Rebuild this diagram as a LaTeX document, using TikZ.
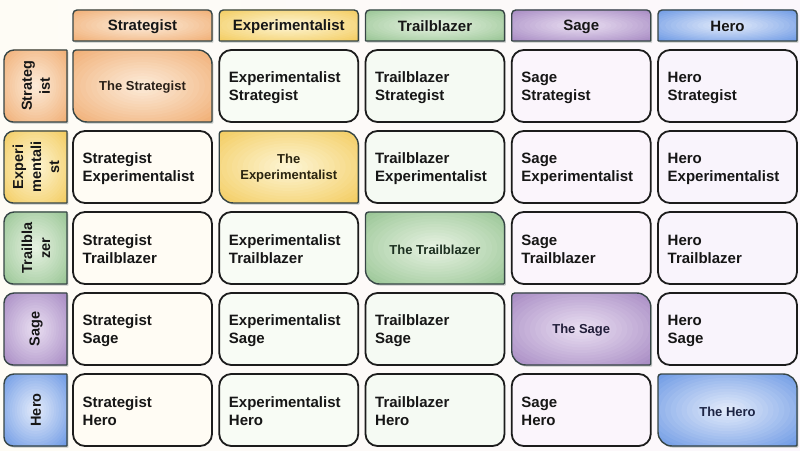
\documentclass[tikz,border=0pt]{standalone}
\usepackage{fontspec}
\setmainfont{Liberation Sans}
\definecolor{bgl}{HTML}{FEFCF5}
\definecolor{bgm}{HTML}{F7FBF5}
\definecolor{bgr}{HTML}{FBF7FC}
\definecolor{cellline}{HTML}{1C1C1C}
\definecolor{boxline}{HTML}{364545}
\definecolor{shadowc}{HTML}{C4C7C4}
\definecolor{txt}{HTML}{161616}
\definecolor{tA}{HTML}{FFFCF4}
\definecolor{tB}{HTML}{F8FCF5}
\definecolor{tC}{HTML}{F5FAF3}
\definecolor{tD}{HTML}{FBF5FC}
\definecolor{tE}{HTML}{F9F4FC}
\definecolor{oA}{HTML}{F0AD72}\definecolor{iA}{HTML}{FCEBD9}\definecolor{xA}{HTML}{2A2018}
\definecolor{oB}{HTML}{F3CB5C}\definecolor{iB}{HTML}{FDF5D4}\definecolor{xB}{HTML}{2A2410}
\definecolor{oC}{HTML}{96C492}\definecolor{iC}{HTML}{E7F2E2}\definecolor{xC}{HTML}{1C3020}
\definecolor{oD}{HTML}{A588C2}\definecolor{iD}{HTML}{E9DEF1}\definecolor{xD}{HTML}{221E3A}
\definecolor{oE}{HTML}{6A97E4}\definecolor{iE}{HTML}{E3EBFA}\definecolor{xE}{HTML}{1C2444}
\tikzset{
  celltext/.style={font=\fontsize{15}{18}\selectfont\bfseries, align=left, text=txt, inner sep=0pt, anchor=west},
  headtext/.style={font=\fontsize{15}{18}\selectfont\bfseries, align=center, text=txt, inner sep=0pt},
  rowtext/.style={font=\fontsize{14.5}{18}\selectfont\bfseries, align=center, text=txt, inner sep=0pt, rotate=90},
  diagtext/.style={font=\fontsize{13}{16}\selectfont\bfseries, align=center, inner sep=0pt},
  offbox/.style={draw=cellline, line width=1.8pt},
  colbox/.style={draw=boxline, line width=1.4pt},
  shadowbox/.style={fill=shadowc},
}
% path of a box: #1 x, #2 ytop (image coords), #3 w, #4 h, #5 rTL, #6 rTR, #7 rBR, #8 rBL
\newcommand\rpath[8]{({#1+#5},{450-(#2)}) -- ({#1+#3-#6},{450-(#2)})
    arc[start angle=90,end angle=0,radius=#6pt] -- ({#1+#3},{450-(#2)-#4+#7})
    arc[start angle=0,end angle=-90,radius=#7pt] -- ({#1+#8},{450-(#2)-#4})
    arc[start angle=270,end angle=180,radius=#8pt] -- ({#1},{450-(#2)-#5})
    arc[start angle=180,end angle=90,radius=#5pt] -- cycle}
% radial-looking gradient box: #1 colour key, #2 x, #3 ytop, #4 w, #5 h, #6-#9 radii
\newcommand\gradbox[9]{%
  \fill[shadowbox] \rpath{#2+1.4}{#3+1.6}{#4}{#5}{#6}{#7}{#8}{#9};
  \begin{scope}
    \clip \rpath{#2}{#3}{#4}{#5}{#6}{#7}{#8}{#9};
    \foreach \k in {0,...,18}{%
      \pgfmathsetmacro\p{100*(\k/18)^0.9}%
      \pgfmathsetmacro\f{0.72*(1-\k/18.6)}%
      \fill[i#1!\p!o#1] ({#2+(#4)/2},{450-(#3)-(#5)/2}) ellipse [x radius={\f*(#4)*1pt}, y radius={\f*(#5)*1pt}];
    }
  \end{scope}
  \draw[colbox] \rpath{#2}{#3}{#4}{#5}{#6}{#7}{#8}{#9};}
\newcommand\offcell[4]{%
  \pgfmathsetmacro\cx{73+146.25*(#1-1)}%
  \pgfmathsetmacro\cy{50+81*(#2-1)}%
  \path[fill=#4,offbox] \rpath{\cx}{\cy}{139}{72}{12}{12}{12}{12};
  \node[celltext] (cell-#1-#2) at ({\cx+9.5},{450-\cy-37.5}) {#3};}
\newcommand\diagcell[3]{%
  \pgfmathsetmacro\cx{73+146.25*(#1-1)}%
  \pgfmathsetmacro\cy{50+81*(#1-1)}%
  \gradbox{#2}{\cx}{\cy}{139}{72}{3}{14}{1}{14}%
  \node[diagtext,text=x#2] (cell-#1-#1) at ({\cx+69.5},{450-\cy-37.5}) {#3};}
\newcommand\colhead[3]{%
  \pgfmathsetmacro\cx{73+146.25*(#1-1)}%
  \gradbox{#2}{\cx}{10}{139}{31}{4}{4}{0.5}{0.5}%
  \node[headtext] (head-#1) at ({\cx+69.5},{450-26.5}) {#3};}
\newcommand\rowhead[3]{%
  \pgfmathsetmacro\cy{50+81*(#1-1)}%
  \gradbox{#2}{4}{\cy}{63}{72}{10}{0.5}{0.5}{9}%
  \node[rowtext] (row-#1) at (36,{450-\cy-36}) {#3};}
\begin{document}
\begin{tikzpicture}[x=1pt,y=1pt]
\useasboundingbox (0,0) rectangle (800,450);
\shade[left color=bgl, middle color=bgm, right color=bgr] (0,0) rectangle (800,450);
% column headers
\colhead{1}{A}{Strategist}
\colhead{2}{B}{Experimentalist}
\colhead{3}{C}{Trailblazer}
\colhead{4}{D}{Sage}
\colhead{5}{E}{Hero}
% row headers
\rowhead{1}{A}{Strateg\\ist}
\rowhead{2}{B}{Experi\\mentali\\st}
\rowhead{3}{C}{Trailbla\\zer}
\rowhead{4}{D}{Sage}
\rowhead{5}{E}{Hero}
% diagonal
\diagcell{1}{A}{The Strategist}
\diagcell{2}{B}{The\\Experimentalist}
\diagcell{3}{C}{The Trailblazer}
\diagcell{4}{D}{The Sage}
\diagcell{5}{E}{The Hero}
% row 1
\offcell{2}{1}{Experimentalist\\Strategist}{tB}
\offcell{3}{1}{Trailblazer\\Strategist}{tC}
\offcell{4}{1}{Sage\\Strategist}{tD}
\offcell{5}{1}{Hero\\Strategist}{tE}
% row 2
\offcell{1}{2}{Strategist\\Experimentalist}{tA}
\offcell{3}{2}{Trailblazer\\Experimentalist}{tC}
\offcell{4}{2}{Sage\\Experimentalist}{tD}
\offcell{5}{2}{Hero\\Experimentalist}{tE}
% row 3
\offcell{1}{3}{Strategist\\Trailblazer}{tA}
\offcell{2}{3}{Experimentalist\\Trailblazer}{tB}
\offcell{4}{3}{Sage\\Trailblazer}{tD}
\offcell{5}{3}{Hero\\Trailblazer}{tE}
% row 4
\offcell{1}{4}{Strategist\\Sage}{tA}
\offcell{2}{4}{Experimentalist\\Sage}{tB}
\offcell{3}{4}{Trailblazer\\Sage}{tC}
\offcell{5}{4}{Hero\\Sage}{tE}
% row 5
\offcell{1}{5}{Strategist\\Hero}{tA}
\offcell{2}{5}{Experimentalist\\Hero}{tB}
\offcell{3}{5}{Trailblazer\\Hero}{tC}
\offcell{4}{5}{Sage\\Hero}{tD}
\end{tikzpicture}
\end{document}
